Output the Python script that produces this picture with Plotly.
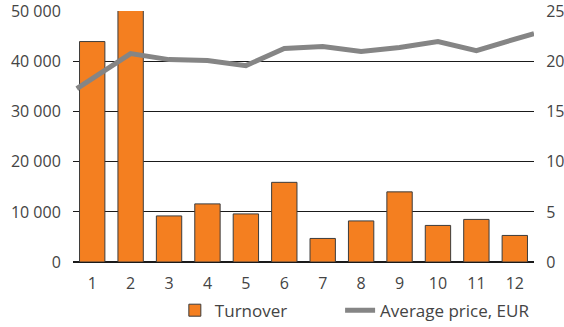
import plotly.graph_objects as go

# Monthly data
months = [1, 2, 3, 4, 5, 6, 7, 8, 9, 10, 11, 12]
turnover = [44000, 50200, 9200, 11600, 9600, 15900, 4700, 8200, 14000, 7300, 8500, 5300]

# Average price line (end points run out towards the plot edges)
price_x = [0.6, 2, 3, 4, 5, 6, 7, 8, 9, 10, 11, 12.5]
avg_price = [17.3, 20.8, 20.2, 20.1, 19.6, 21.3, 21.5, 21.0, 21.4, 22.0, 21.1, 22.8]

left_ticks = [0, 10000, 20000, 30000, 40000, 50000]
right_ticks = [0, 5, 10, 15, 20, 25]

ORANGE = "#F47F20"
GREY = "#858585"
TEXT = "#444444"
FONT = "Open Sans"
TOP = 50100  # a little headroom so the 50 000 gridline is drawn

fig = go.Figure()

fig.add_trace(go.Bar(
    x=months, y=turnover, name="Turnover",
    marker=dict(color=ORANGE, line=dict(color="#3c3c3c", width=1)),
    yaxis="y", cliponaxis=False, legend="legend",
))

fig.add_trace(go.Scatter(
    x=price_x, y=avg_price, name="Average price, EUR",
    mode="lines", line=dict(color=GREY, width=5),
    yaxis="y2", legend="legend2",
))

legend_style = dict(
    orientation="h", xanchor="left",
    yref="container", y=0.05, yanchor="middle",
    font=dict(size=17, color=TEXT), itemwidth=30,
)

fig.update_layout(
    width=564, height=327,
    margin=dict(l=73, r=30, t=11, b=65, autoexpand=False),
    paper_bgcolor="white", plot_bgcolor="white",
    separators=", ",
    font=dict(family=FONT, size=16, color=TEXT),
    bargap=0.34,
    showlegend=True,
    legend=dict(xref="container", x=0.31, **legend_style),
    legend2=dict(xref="container", x=0.603, **legend_style),
    xaxis=dict(
        range=[0.5, 12.5], tickvals=months, ticktext=[str(m) for m in months],
        showgrid=False, zeroline=False, showline=False,
        ticks="outside", ticklen=7, tickcolor="white",
        tickfont=dict(size=16, color=TEXT),
    ),
    yaxis=dict(
        range=[0, TOP], tickvals=left_ticks, tickformat=",d",
        showgrid=True, gridcolor="#1a1a1a", gridwidth=1,
        zeroline=True, zerolinecolor="#1a1a1a", zerolinewidth=1.5,
        showline=False, ticks="outside", ticklen=8, tickcolor="white",
        tickfont=dict(size=16, color=TEXT),
    ),
    yaxis2=dict(
        range=[0, 25 * TOP / 50000], tickvals=right_ticks, overlaying="y", side="right",
        showgrid=False, zeroline=False, showline=False,
        ticks="outside", ticklen=8, tickcolor="white",
        tickfont=dict(size=16, color=TEXT),
    ),
)

fig.write_html("out.html")
